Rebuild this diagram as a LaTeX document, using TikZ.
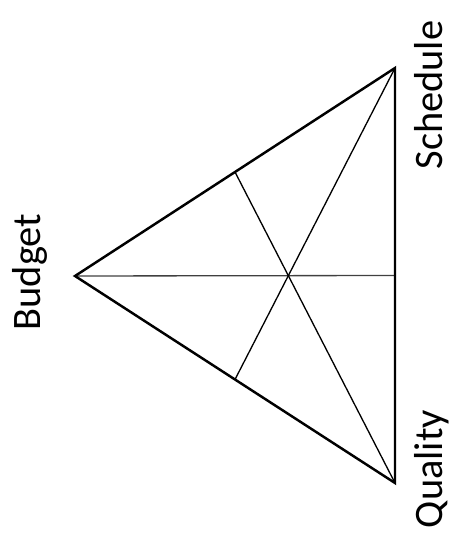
\documentclass[tikz,border=0pt]{standalone}
\usepackage{fontspec}
\setmainfont{Carlito}
\usetikzlibrary{calc}
\tikzset{
  vertexlabel/.style={rotate=90, anchor=base, inner sep=0pt, font=\fontsize{23}{27}\selectfont},
  side/.style={line width=1.4pt, line join=miter},
  median/.style={line width=0.75pt}
}
\begin{document}
\begin{tikzpicture}[x=0.02cm, y=-0.02cm]
\useasboundingbox (0,0) rectangle (454,553);
% corners of the triangle
\coordinate (budget) at (75,276);
\coordinate (schedule) at (395,68);
\coordinate (quality) at (395,483);

% midpoints of the sides
\coordinate (mbs) at ($(budget)!0.5!(schedule)$);
\coordinate (mbq) at ($(budget)!0.5!(quality)$);
\coordinate (msq) at ($(schedule)!0.5!(quality)$);

% medians
\draw[median, black!75] (budget) -- (msq);
\draw[median] (schedule) -- (mbq);
\draw[median] (quality) -- (mbs);

% outline
\draw[side] (budget) -- (schedule) -- (quality) -- cycle;

% labels
\node[vertexlabel] (budgetlbl) at (40,272) {Budget};
\node[vertexlabel] (schedulelbl) at (442,95) {Schedule};
\node[vertexlabel] (qualitylbl) at (442,469) {Quality};
\end{tikzpicture}
\end{document}
